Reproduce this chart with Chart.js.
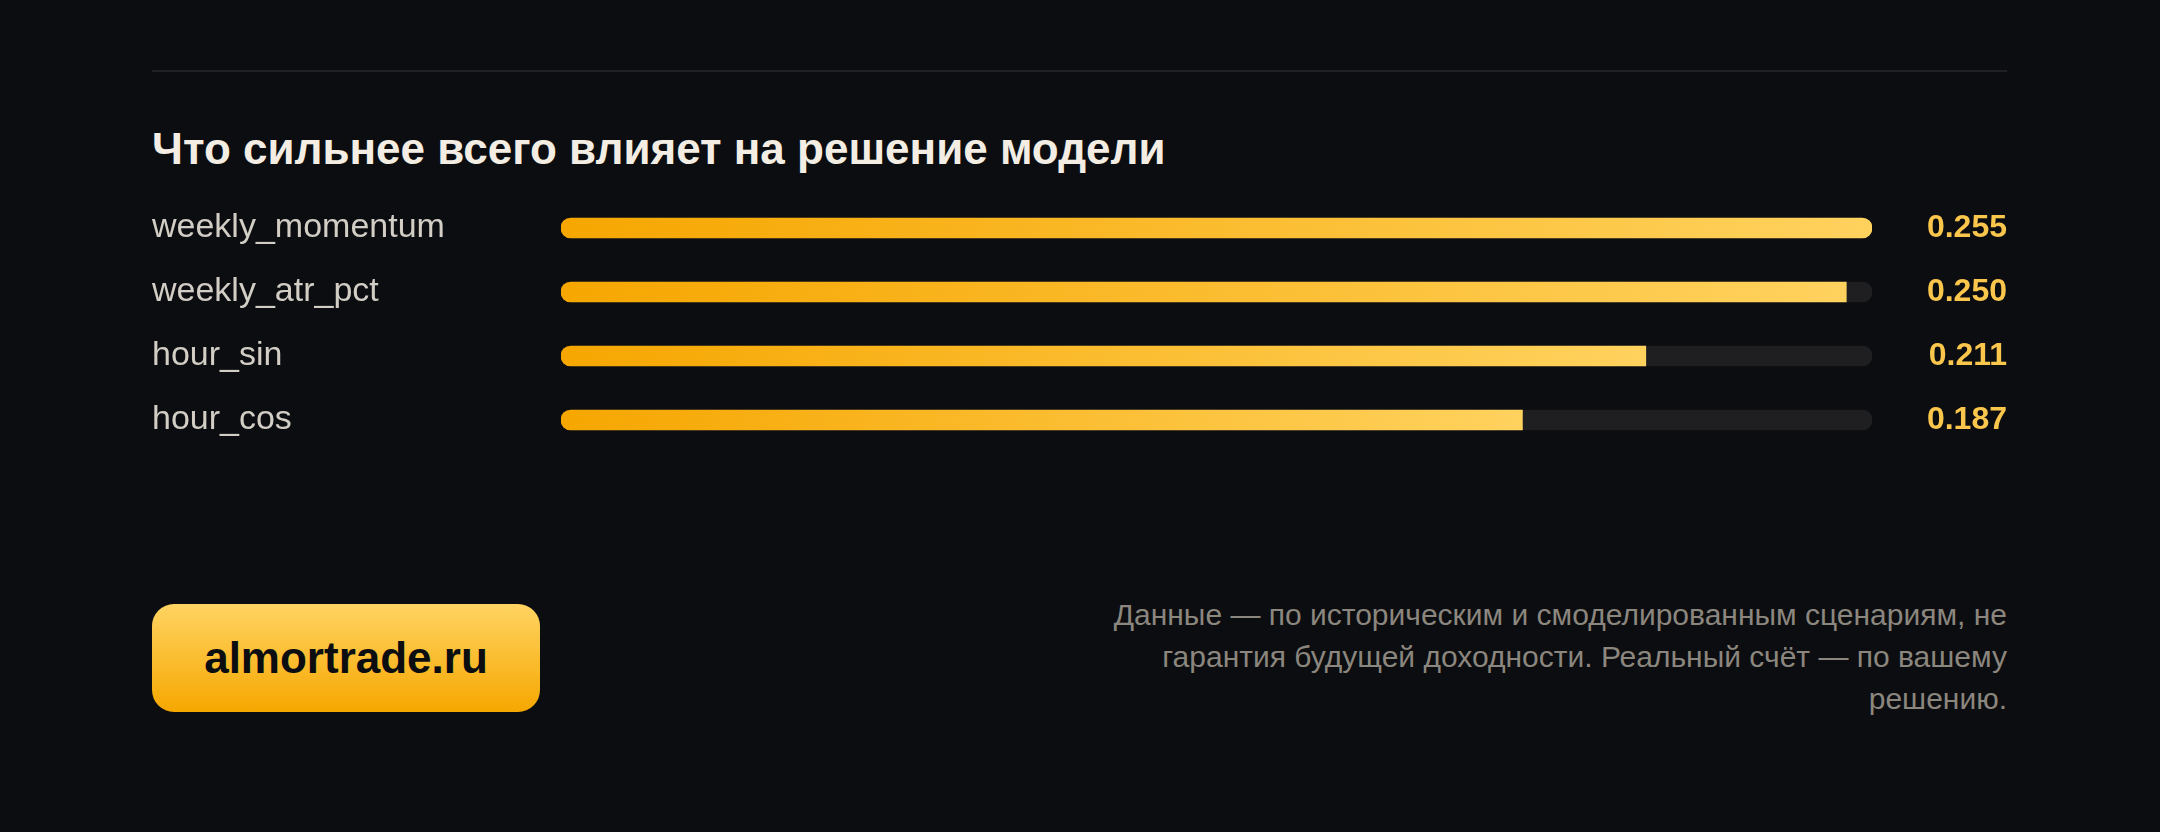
<!DOCTYPE html>
<html lang="ru">
<head>
<meta charset="utf-8">
<title>Что сильнее всего влияет на решение модели</title>
<script src="https://cdn.jsdelivr.net/npm/chart.js@4.4.1/dist/chart.umd.min.js"></script>
<style>
  html, body { margin: 0; padding: 0; }
  body {
    width: 2160px; height: 832px; background: #0b0d10; position: relative; overflow: hidden;
    font-family: "Liberation Sans", Arial, Helvetica, sans-serif;
  }
  .rule { position: absolute; left: 152px; top: 70px; width: 1855px; height: 2px; background: #1f2126; }
  h1 {
    position: absolute; left: 152px; top: 127px; margin: 0;
    font-size: 44px; line-height: 44px; font-weight: 700; color: #f3ede4; white-space: nowrap;
  }
  .chart-wrap { position: absolute; left: 152px; top: 196px; width: 1855px; height: 256px; }
  .btn {
    position: absolute; left: 152px; top: 604px; width: 388px; height: 108px; border-radius: 22px;
    background: linear-gradient(180deg, #ffd462 0%, #f6a700 100%);
    display: flex; align-items: center; justify-content: center;
    font-size: 44px; font-weight: 700; color: #0b0d10;
  }
  .note {
    position: absolute; right: 153px; top: 594px; margin: 0; text-align: right;
    font-size: 30px; line-height: 42px; color: #8b867e; white-space: nowrap;
  }
</style>
</head>
<body>
<div class="rule"></div>
<h1>Что сильнее всего влияет на решение модели</h1>
<div class="chart-wrap"><canvas id="c"></canvas></div>
<div class="btn">almortrade.ru</div>
<p class="note">Данные — по историческим и смоделированным сценариям, не<br>гарантия будущей доходности. Реальный счёт — по вашему<br>решению.</p>
<script>
const features = ["weekly_momentum", "weekly_atr_pct", "hour_sin", "hour_cos"];
const importance = [0.255, 0.250, 0.211, 0.187];
const valueLabels = ["0.255", "0.250", "0.211", "0.187"];

const maxImp = Math.max(...importance);
const trackValues = features.map(() => maxImp);
const FONT = '"Liberation Sans", Arial, Helvetica, sans-serif';

function fillGradient(ctx) {
  const chart = ctx.chart;
  const { chartArea, scales } = chart;
  if (!chartArea || ctx.type !== 'data') return '#f6a700';
  const x0 = scales.x.getPixelForValue(0);
  const x1 = scales.x.getPixelForValue(ctx.raw);
  const g = chart.ctx.createLinearGradient(x0, 0, Math.max(x1, x0 + 1), 0);
  g.addColorStop(0, '#f6a600');
  g.addColorStop(1, '#ffd25e');
  return g;
}

function noPad(s, w) {
  s.width = w;
  s.paddingTop = 0;
  s.paddingBottom = 0;
}

new Chart(document.getElementById('c'), {
  type: 'bar',
  data: {
    labels: features,
    datasets: [
      {
        data: importance,
        backgroundColor: fillGradient,
        borderSkipped: false,
        borderRadius: (ctx) => {
          const r = ctx.raw >= maxImp ? 10 : 0;
          return { topLeft: 10, bottomLeft: 10, topRight: r, bottomRight: r };
        },
        barThickness: 20,
        grouped: false,
        order: 0
      },
      {
        data: trackValues,
        backgroundColor: '#1f1f22',
        borderSkipped: false,
        borderRadius: 10,
        barThickness: 20,
        grouped: false,
        order: 1
      }
    ]
  },
  options: {
    indexAxis: 'y',
    responsive: true,
    maintainAspectRatio: false,
    animation: false,
    events: [],
    layout: { padding: 0 },
    plugins: { legend: { display: false }, tooltip: { enabled: false } },
    scales: {
      x: { display: false, min: 0, max: maxImp },
      y: {
        position: 'left',
        grid: { display: false },
        border: { display: false },
        ticks: {
          crossAlign: 'far', padding: 0, color: '#d2cdc5',
          font: { family: FONT, size: 34 }
        },
        afterFit: (s) => noPad(s, 409)
      },
      y2: {
        type: 'category',
        labels: valueLabels,
        position: 'right',
        offset: true,
        grid: { display: false },
        border: { display: false },
        ticks: {
          crossAlign: 'far', padding: 0, color: '#fbc64c',
          font: { family: FONT, size: 32, weight: 'bold' }
        },
        afterFit: (s) => noPad(s, 135)
      }
    }
  }
});
</script>
</body>
</html>
